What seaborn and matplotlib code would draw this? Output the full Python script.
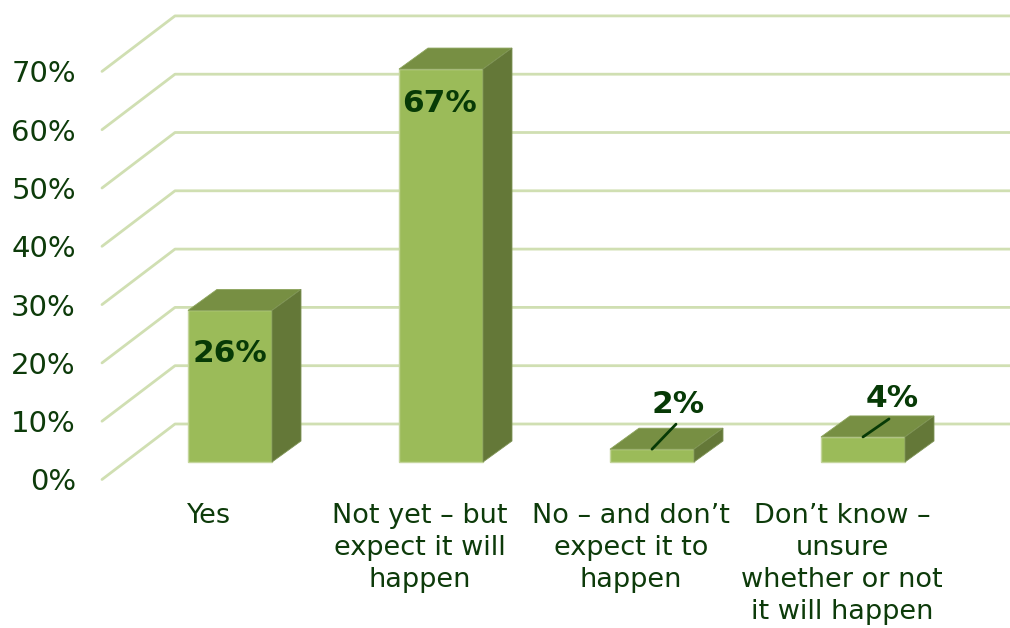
import pandas as pd
import matplotlib
matplotlib.use('Agg')
import matplotlib.pyplot as plt
from matplotlib.patches import Polygon
import seaborn as sns

# Chart values
categories = ['Yes', 'Not yet \u2013 but\nexpect it will\nhappen', 'No \u2013 and don\u2019t\nexpect it to\nhappen',
              'Don\u2019t know \u2013\nunsure\nwhether or not\nit will happen']
values = [26, 67.4, 2.2, 4.3]
value_labels = ['26%', '67%', '2%', '4%']
ticks = [0, 10, 20, 30, 40, 50, 60, 70]
tick_labels = ['0%', '10%', '20%', '30%', '40%', '50%', '60%', '70%']

front_color = '#9BBB59'
top_color = '#778F43'
side_color = '#647838'
grid_color = '#D0DFB2'
text_color = '#0D3B0A'
bold_color = '#073A06'

# pixel scale of the picture: one category = 211 px, 1% = 5.83 px
px_x = 1 / 211
px_y = 1 / 5.83
bar_width = 84 * px_x
depth_x = 29 * px_x
depth_y = 21 * px_y

sns.set_style('white')
plt.rcParams['font.family'] = ['DejaVu Sans']
fig = plt.figure(figsize=(10.1, 6.28), dpi=100)
ax = fig.add_axes([0, 0, 1, 1])

data = pd.DataFrame({'category': categories, 'value': values})
sns.barplot(data=data, x='category', y='value', color=front_color, saturation=1,
            width=bar_width, edgecolor='#C4D59C', linewidth=1, ax=ax, zorder=3)

ax.set_xlim(-230 * px_x, 780 * px_x)
ax.set_ylim(-166 * px_y, 462 * px_y)
ax.axis('off')

# back wall grid lines and the slanted floor/side lines
for tick, label in zip(ticks, tick_labels):
    back_y = tick + 38 * px_y
    front_y = tick - 17.5 * px_y
    ax.plot([-128 * px_x, -55 * px_x, 780 * px_x], [front_y, back_y, back_y],
            color=grid_color, lw=2, zorder=1, solid_joinstyle='round')
    ax.text(-154 * px_x, front_y, label, ha='right', va='center_baseline', fontsize=21, color=text_color)

# top and side faces of each bar
for i, value in enumerate(values):
    left = i - bar_width / 2
    right = i + bar_width / 2
    ax.add_patch(Polygon([(left, value), (right, value), (right + depth_x, value + depth_y),
                          (left + depth_x, value + depth_y)], facecolor=top_color,
                         edgecolor='#8CA45C', lw=0.6, zorder=3))
    ax.add_patch(Polygon([(right, 0), (right, value), (right + depth_x, value + depth_y),
                          (right + depth_x, depth_y)], facecolor=side_color,
                         edgecolor='#7E9355', lw=0.6, zorder=3))

# data labels, the two small bars get a leader line
ax.text(0, 26 - 43 * px_y, value_labels[0], ha='center', va='center', fontsize=22.5,
        fontweight='bold', color=bold_color, zorder=5)
ax.text(1 - 1 * px_x, 67.4 - 34 * px_y, value_labels[1], ha='center', va='center', fontsize=22.5,
        fontweight='bold', color=bold_color, zorder=5)
ax.text(2 + 26 * px_x, 2.2 + 45 * px_y, value_labels[2], ha='center', va='center', fontsize=22.5,
        fontweight='bold', color=bold_color, zorder=5)
ax.text(3 + 29 * px_x, 4.3 + 38 * px_y, value_labels[3], ha='center', va='center', fontsize=22.5,
        fontweight='bold', color=bold_color, zorder=5)
ax.plot([2, 2 + 24 * px_x], [2.2, 2.2 + 25 * px_y], color=bold_color, lw=2, zorder=5)
ax.plot([3, 3 + 26 * px_x], [4.3, 4.3 + 18 * px_y], color=bold_color, lw=2, zorder=5)

# category labels sit left of the bar centres, top aligned
for i, category in enumerate(categories):
    ax.text(i - 21 * px_x, -41 * px_y, category, ha='center', va='top', fontsize=19.5,
            color=text_color, linespacing=1.3)

fig.savefig('out.png', dpi=100)
